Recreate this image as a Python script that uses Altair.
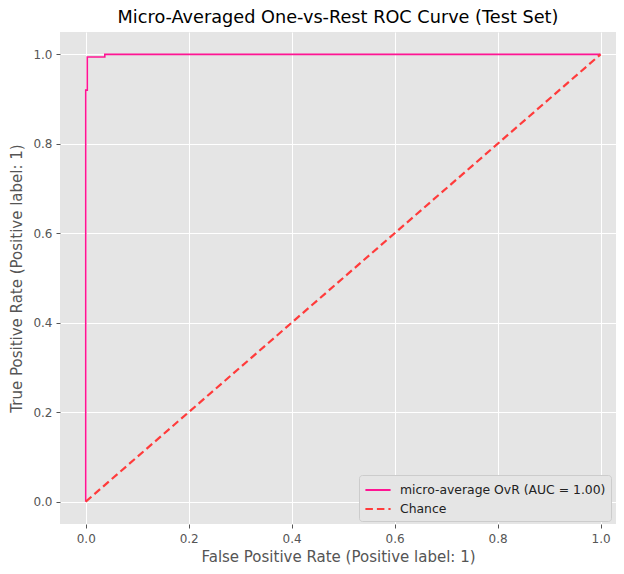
import altair as alt
import pandas as pd

roc_fpr = [0.0, 0.0, 0.003, 0.003, 0.037, 0.037, 1.0]
roc_tpr = [0.0, 0.92, 0.92, 0.994, 0.994, 1.0, 1.0]
chance_fpr = [0.0, 1.0]
chance_tpr = [0.0, 1.0]

roc_label = "micro-average OvR (AUC = 1.00)"
chance_label = "Chance"

roc_df = pd.DataFrame({"fpr": roc_fpr, "tpr": roc_tpr, "series": roc_label,
                       "idx": list(range(len(roc_fpr)))})
chance_df = pd.DataFrame({"fpr": chance_fpr, "tpr": chance_tpr, "series": chance_label,
                          "idx": list(range(len(chance_fpr)))})

labels = [roc_label, chance_label]
color_scale = alt.Scale(domain=labels, range=["#ff1493", "#ff3b3b"])
dash_scale = alt.Scale(domain=labels, range=[[1, 0], [7.5, 4]])

x_enc = alt.X("fpr:Q", scale=alt.Scale(domain=[-0.05, 1.03], nice=False, zero=False),
              axis=alt.Axis(title="False Positive Rate (Positive label: 1)",
                            values=[0, 0.2, 0.4, 0.6, 0.8, 1.0], format=".1f"))
y_enc = alt.Y("tpr:Q", scale=alt.Scale(domain=[-0.05, 1.05], nice=False, zero=False),
              axis=alt.Axis(title="True Positive Rate (Positive label: 1)",
                            values=[0, 0.2, 0.4, 0.6, 0.8, 1.0], format=".1f"))

legend = alt.Legend(title=None, orient="none", legendX=299, legendY=443,
                    symbolType="M-1.4,0H1.4",
                    fillColor="#e5e5e5", strokeColor="#cccccc", padding=5,
                    cornerRadius=3, labelFontSize=12.4, labelColor="#222222",
                    labelLimit=400, symbolSize=324, symbolStrokeWidth=2,
                    symbolOffset=4, labelOffset=12, rowPadding=2,
                    labelFont="DejaVu Sans")

roc = alt.Chart(roc_df).mark_line(strokeWidth=1.6, interpolate="linear", clip=True).encode(
    x=x_enc, y=y_enc, order="idx:Q",
    color=alt.Color("series:N", scale=color_scale, legend=legend),
    strokeDash=alt.StrokeDash("series:N", scale=dash_scale, legend=legend),
)
chance = alt.Chart(chance_df).mark_line(strokeWidth=2.2, clip=True).encode(
    x=x_enc, y=y_enc, order="idx:Q",
    color=alt.Color("series:N", scale=color_scale, legend=legend),
    strokeDash=alt.StrokeDash("series:N", scale=dash_scale, legend=legend),
)

chart = alt.layer(roc, chance).properties(
    width=556, height=492,
    autosize=alt.AutoSizeParams(type="none"),
    padding={"left": 52, "top": 24, "right": 0, "bottom": 42},
    title=alt.Title("Micro-Averaged One-vs-Rest ROC Curve (Test Set)", fontSize=17.7,
                    font="DejaVu Sans", fontWeight="normal", color="#000000", offset=5),
).configure_view(fill="#e5e5e5", stroke=None).configure_axis(
    grid=True, gridColor="#ffffff", gridWidth=1, domain=False,
    tickColor="#555555", tickSize=4, labelColor="#555555", labelFontSize=12,
    labelFont="DejaVu Sans", titleFont="DejaVu Sans", titleFontSize=15,
    titleColor="#555555", titleFontWeight="normal",
).configure_axisX(titlePadding=5, labelPadding=5).configure_axisY(titlePadding=8, labelPadding=4)

chart.save("out.html", embed_options={"renderer": "svg", "actions": False})
